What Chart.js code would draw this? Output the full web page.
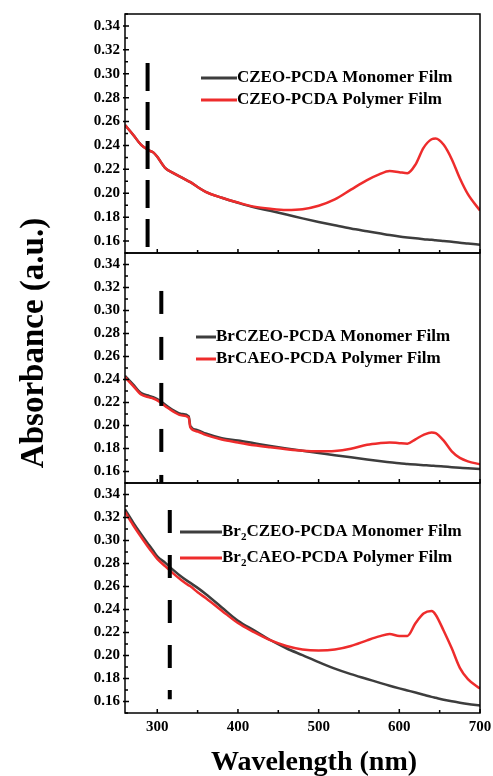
<!DOCTYPE html>
<html>
<head>
<meta charset="utf-8">
<script src="https://cdn.jsdelivr.net/npm/chart.js@4.4.0/dist/chart.umd.min.js"></script>
<style>
html, body { margin: 0; padding: 0; background: #fff; }
#wrap { position: relative; width: 493px; height: 776px; }
#wrap canvas { position: absolute; left: 0; top: 0; }
</style>
</head>
<body>
<div id="wrap">
  <canvas id="c3" width="493" height="776"></canvas>
  <canvas id="c2" width="493" height="776"></canvas>
  <canvas id="c1" width="493" height="776"></canvas>
</div>
<script>
// wavelength grid (nm), shared by all six spectra
var wavelengths = [260, 270, 280, 290, 295, 300, 310, 320, 330, 339, 341, 350, 360, 380, 400, 420, 440, 460, 480,
    500, 520, 540, 560, 575, 588, 600, 610, 620, 630, 640, 645, 655, 665, 675, 685, 700];

// panel 1
var czeoMonomer = [0.257, 0.249, 0.2405, 0.2358, 0.2342, 0.2305, 0.221, 0.2168, 0.2132, 0.2100, 0.2093, 0.2052, 0.2012, 0.1962, 0.1920,
    0.1882, 0.1853, 0.1822, 0.1790, 0.1760, 0.1732, 0.1705, 0.1682, 0.1665, 0.1650, 0.1638, 0.1630, 0.1623, 0.1616, 0.1610,
    0.1606, 0.1600, 0.1594, 0.1586, 0.1580, 0.1570];
var czeoPolymer = [0.257, 0.249, 0.2405, 0.2358, 0.2342, 0.2305, 0.221, 0.2168, 0.2132, 0.2100, 0.2093, 0.2052, 0.2012, 0.1962, 0.1922,
    0.1888, 0.1870, 0.1860, 0.1866, 0.1895, 0.1948, 0.2030, 0.2110, 0.2158, 0.2186, 0.2176, 0.2168, 0.2240, 0.2380, 0.2452,
    0.2458, 0.2405, 0.2285, 0.2125, 0.1992, 0.1855];

// panel 2
var brczeoMonomer = [0.2432, 0.2357, 0.2282, 0.2257, 0.2247, 0.2230, 0.2180, 0.2132, 0.2100, 0.2080, 0.1995, 0.1960, 0.1930, 0.1890, 0.1870,
    0.1846, 0.1822, 0.1800, 0.1780, 0.1761, 0.1742, 0.1723, 0.1704, 0.1691, 0.1681, 0.1672, 0.1666, 0.1660, 0.1655, 0.1650,
    0.1648, 0.1643, 0.1638, 0.1633, 0.1628, 0.1621];
var brcaeoPolymer = [0.2420, 0.2345, 0.2270, 0.2245, 0.2235, 0.2218, 0.2168, 0.2120, 0.2088, 0.2068, 0.1983, 0.1948, 0.1918, 0.1878, 0.1852,
    0.1828, 0.1810, 0.1794, 0.1781, 0.1776, 0.1779, 0.1798, 0.1832, 0.1846, 0.1853, 0.1846, 0.1842, 0.1880, 0.1918, 0.1940,
    0.1934, 0.1868, 0.1775, 0.1718, 0.1688, 0.1663];

// panel 3
var br2czeoMonomer = [0.3271, 0.3158, 0.3055, 0.2958, 0.2910, 0.2863, 0.2805, 0.2742, 0.2684, 0.2640, 0.2632, 0.2588, 0.2535, 0.2418, 0.2302,
    0.2218, 0.2135, 0.2063, 0.2003, 0.1942, 0.1886, 0.1838, 0.1796, 0.1764, 0.1737, 0.1714, 0.1696, 0.1678, 0.1659, 0.1640,
    0.1632, 0.1616, 0.1602, 0.1590, 0.1579, 0.1565];
var br2caeoPolymer = [0.3248, 0.3135, 0.3030, 0.2930, 0.2885, 0.2840, 0.2775, 0.2712, 0.2655, 0.2610, 0.2602, 0.2550, 0.2500, 0.2390, 0.2282,
    0.2203, 0.2133, 0.2083, 0.2053, 0.2044, 0.2052, 0.2083, 0.2132, 0.2166, 0.2187, 0.2170, 0.2170, 0.2280, 0.2365, 0.2386,
    0.2355, 0.2215, 0.2062, 0.1893, 0.1795, 0.1712];

// dashed guide lines (wavelength, top, bottom)
var markerWl = [288, 305, 315.5];
var markerTop = [0.309, 0.317, 0.3265];
var markerBottom = [0.15, 0.15, 0.162];

var legendLabels = [
    ['CZEO-PCDA Monomer Film', 'CZEO-PCDA Polymer Film'],
    ['BrCZEO-PCDA Monomer Film', 'BrCAEO-PCDA Polymer Film'],
    ['Br₂CZEO-PCDA Monomer Film', 'Br₂CAEO-PCDA Polymer Film']
];

var xTicks = [300, 400, 500, 600, 700];
var xMinorTicks = [350, 450, 550, 650];
var yTicks = [0.16, 0.18, 0.20, 0.22, 0.24, 0.26, 0.28, 0.30, 0.32, 0.34];
var yMinorTicks = [0.15, 0.17, 0.19, 0.21, 0.23, 0.25, 0.27, 0.29, 0.31, 0.33, 0.35];

var FONT = '"Liberation Serif", "Times New Roman", serif';
var RED = '#ee2c2c';
var GREY = '#3d3d3d';

function toPoints(vals) {
    return wavelengths.map((w, i) => ({ x: w, y: vals[i] }));
}

function drawLabel(ctx, text, x, y, size) {
    var parts = text.split('₂');
    var cx = x;
    parts.forEach((p, i) => {
        if (i > 0) {
            ctx.font = 'bold ' + Math.round(size * 0.62) + 'px ' + FONT;
            ctx.fillText('2', cx, y + size * 0.32);
            cx += ctx.measureText('2').width;
        }
        ctx.font = 'bold ' + size + 'px ' + FONT;
        ctx.fillText(p, cx, y);
        cx += ctx.measureText(p).width;
    });
}

var panelDecor = {
    id: 'panelDecor',
    afterDraw(chart, args, opts) {
        var ctx = chart.ctx, a = chart.chartArea;
        var xs = chart.scales.x, ys = chart.scales.y;
        ctx.save();
        ctx.strokeStyle = '#000';
        ctx.lineWidth = 1.5;
        ctx.strokeRect(a.left, a.top, a.right - a.left, a.bottom - a.top);

        ctx.beginPath();
        yTicks.forEach(v => { var p = ys.getPixelForValue(v); ctx.moveTo(a.left - 2, p); ctx.lineTo(a.left + 4, p); });
        yMinorTicks.forEach(v => { var p = ys.getPixelForValue(v); ctx.moveTo(a.left, p); ctx.lineTo(a.left + 3, p); });
        xTicks.forEach(v => { var p = xs.getPixelForValue(v); ctx.moveTo(p, a.bottom); ctx.lineTo(p, a.bottom - 4); });
        xMinorTicks.forEach(v => { var p = xs.getPixelForValue(v); ctx.moveTo(p, a.bottom); ctx.lineTo(p, a.bottom - 3); });
        ctx.stroke();

        // legend
        ctx.fillStyle = '#000';
        ctx.textAlign = 'left';
        ctx.textBaseline = 'middle';
        opts.rows.forEach(r => {
            var ds = chart.data.datasets[r.ds];
            ctx.strokeStyle = ds.borderColor;
            ctx.lineWidth = 3;
            ctx.beginPath();
            ctx.moveTo(opts.x0, r.y);
            ctx.lineTo(opts.x1, r.y);
            ctx.stroke();
            drawLabel(ctx, ds.label, opts.x1, r.y, 17);
        });

        if (opts.titles) {
            ctx.fillStyle = '#000';
            ctx.textAlign = 'center';
            ctx.textBaseline = 'alphabetic';
            ctx.font = 'bold 28px ' + FONT;
            ctx.fillText('Wavelength (nm)', 314, 770);
            ctx.translate(43, 343);
            ctx.rotate(-Math.PI / 2);
            ctx.font = 'bold 33px ' + FONT;
            ctx.fillText('Absorbance (a.u.)', 0, 0);
        }
        ctx.restore();
    }
};

function makePanel(id, n, mono, poly, dash, pad, xHeight, legend, titles) {
    var ctx = document.getElementById(id).getContext('2d');
    return new Chart(ctx, {
        type: 'line',
        data: {
            datasets: [
                {
                    label: legendLabels[n][1],
                    data: toPoints(poly),
                    borderColor: RED,
                    borderWidth: 2.5,
                    pointRadius: 0,
                    cubicInterpolationMode: 'monotone',
                    order: 1
                },
                {
                    label: legendLabels[n][0],
                    data: toPoints(mono),
                    borderColor: GREY,
                    borderWidth: 2.5,
                    pointRadius: 0,
                    cubicInterpolationMode: 'monotone',
                    order: 2
                },
                {
                    data: [{ x: markerWl[n], y: markerTop[n] }, { x: markerWl[n], y: markerBottom[n] }],
                    borderColor: '#000',
                    borderWidth: 4,
                    borderDash: dash,
                    borderCapStyle: 'butt',
                    pointRadius: 0,
                    order: 0
                }
            ]
        },
        options: {
            responsive: false,
            animation: false,
            devicePixelRatio: 1,
            layout: { autoPadding: false, padding: { top: pad[0], bottom: pad[1], left: 0, right: 13 } },
            plugins: {
                legend: { display: false },
                tooltip: { enabled: false },
                panelDecor: { x0: legend.x0, x1: legend.x1, rows: [{ ds: 1, y: legend.y[0] }, { ds: 0, y: legend.y[1] }], titles: titles }
            },
            scales: {
                x: {
                    type: 'linear',
                    min: 260,
                    max: 700,
                    grid: { display: false, drawTicks: false },
                    border: { display: false },
                    afterBuildTicks: s => { s.ticks = xTicks.map(v => ({ value: v })); },
                    afterFit: s => { s.height = xHeight; s.paddingLeft = 0; s.paddingRight = 0; },
                    ticks: {
                        display: xHeight > 0,
                        autoSkip: false,
                        maxRotation: 0,
                        padding: 5,
                        color: '#000',
                        font: { family: FONT, size: 15, weight: 'bold' }
                    }
                },
                y: {
                    min: 0.15,
                    max: 0.35,
                    grid: { display: false, drawTicks: false },
                    border: { display: false },
                    afterBuildTicks: s => { s.ticks = yTicks.map(v => ({ value: v })); },
                    afterFit: s => { s.width = 125; s.paddingTop = 0; s.paddingBottom = 0; },
                    ticks: {
                        autoSkip: false,
                        padding: 5,
                        color: '#000',
                        font: { family: FONT, size: 15, weight: 'bold' },
                        callback: v => v.toFixed(2)
                    }
                }
            }
        },
        plugins: [panelDecor]
    });
}

makePanel('c1', 0, czeoMonomer, czeoPolymer, [28, 11], [14, 523], 0, { x0: 201, x1: 237, y: [78, 100] }, false);
makePanel('c2', 1, brczeoMonomer, brcaeoPolymer, [23, 23], [253, 293], 0, { x0: 196, x1: 216, y: [337, 359] }, false);
makePanel('c3', 2, br2czeoMonomer, br2caeoPolymer, [23, 22], [483, 0], 63, { x0: 180, x1: 222, y: [532, 558] }, true);
</script>
</body>
</html>
